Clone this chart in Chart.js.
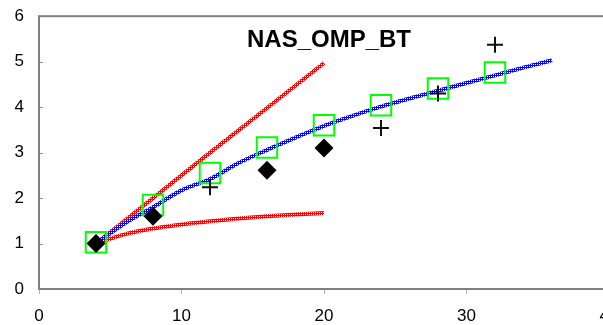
<!DOCTYPE html>
<html>
<head>
<meta charset="utf-8">
<script src="https://cdn.jsdelivr.net/npm/chart.js@4/dist/chart.umd.min.js"></script>
<style>
  html, body { margin: 0; padding: 0; background: #fff; overflow: hidden; }
  /* canvas is a bit larger than the window so the plot frame runs past the right edge */
  #speedup { display: block; margin-top: -9px; }
</style>
</head>
<body>
<canvas id="speedup" width="640" height="334"></canvas>
<script>
// Measured speedups (relative to 4 threads)
const squareX = [4, 8, 12, 16, 20, 24, 28, 32];
const squareY = [1.03, 1.85, 2.55, 3.11, 3.60, 4.04, 4.41, 4.76];

const diamondX = [4, 8, 16, 20];
const diamondY = [1.0, 1.6, 2.61, 3.1];

const plusX = [12, 24, 28, 32];
const plusY = [2.24, 3.54, 4.3, 5.37];

// Trend curve through the squares
const trendX = [4, 6, 8, 10, 12, 14, 16, 18, 20, 22, 24, 26, 28, 30, 32, 34, 36];
const trendY = [1.0, 1.44, 1.80, 2.17, 2.42, 2.77, 3.06, 3.33, 3.59, 3.81, 4.01, 4.19, 4.36, 4.53, 4.70, 4.87, 5.03];

// Linear and saturating reference curves
const idealX = [4, 8, 12, 16, 20];
const idealY = [1.0, 2.0, 3.0, 3.98, 4.97];

const boundX = [4, 6, 8, 10, 12, 14, 16, 18, 20];
const boundY = [1.0, 1.2, 1.33, 1.42, 1.49, 1.55, 1.6, 1.64, 1.67];

const xTicks = [0, 10, 20, 30, 40];
const yTicks = [0, 1, 2, 3, 4, 5, 6];

const chartTitle = 'NAS_OMP_BT';

function pts(xs, ys) {
  return xs.map((x, i) => ({x: x, y: ys[i]}));
}

const canvas = document.getElementById('speedup');
const ctx = canvas.getContext('2d');

// small dotted fill used for the thick curves
function dotted(fg, bg, holes) {
  const tile = document.createElement('canvas');
  tile.width = 2; tile.height = 2;
  const g = tile.getContext('2d');
  g.fillStyle = fg;
  g.fillRect(0, 0, 2, 2);
  g.fillStyle = bg;
  holes.forEach(p => g.fillRect(p[0], p[1], 1, 1));
  return ctx.createPattern(tile, 'repeat');
}
const bluePattern = dotted('#0000ff', '#ffffff', [[1, 1]]);
const redPattern = dotted('#ff0000', '#ffffff', [[1, 1]]);

// frame, inward y ticks and the title inside the plot
const framePlugin = {
  id: 'frame',
  beforeDatasetsDraw(chart) {
    const {ctx, chartArea: a, scales} = chart;
    ctx.save();
    ctx.strokeStyle = '#8c8c8c';
    ctx.lineWidth = 1;
    yTicks.forEach(v => {
      const y = Math.round(scales.y.getPixelForValue(v)) + 0.5;
      ctx.beginPath();
      ctx.moveTo(a.left, y);
      ctx.lineTo(a.left + 4, y);
      ctx.stroke();
    });
    ctx.restore();
  },
  afterDatasetsDraw(chart) {
    const {ctx, chartArea: a} = chart;
    ctx.save();
    ctx.strokeStyle = '#808080';
    ctx.lineWidth = 2;
    ctx.strokeRect(a.left, a.top, a.right - a.left, a.bottom - a.top);
    ctx.fillStyle = '#000';
    ctx.font = 'bold 24px "Liberation Sans", Arial, sans-serif';
    ctx.textAlign = 'center';
    ctx.textBaseline = 'alphabetic';
    ctx.fillText(chartTitle, a.left + 290, a.top + 31);
    ctx.restore();
  }
};

const tickFont = {family: '"Liberation Sans", Arial, sans-serif', size: 17};

new Chart(ctx, {
  type: 'scatter',
  data: {
    datasets: [
      {
        label: 'plus',
        data: pts(plusX, plusY),
        pointStyle: 'cross',
        pointRadius: 8,
        pointBorderWidth: 2,
        borderColor: '#111',
        backgroundColor: '#111'
      },
      {
        label: 'diamond',
        data: pts(diamondX, diamondY),
        pointStyle: 'rectRot',
        pointRadius: 9.5,
        pointBorderWidth: 0,
        backgroundColor: '#000',
        borderColor: '#000'
      },
      {
        label: 'square',
        data: pts(squareX, squareY),
        pointStyle: 'rect',
        pointRadius: 14.5,
        pointBorderWidth: 2,
        borderColor: '#00ff00',
        backgroundColor: 'rgba(0,0,0,0)'
      },
      {
        label: 'trend',
        data: pts(trendX, trendY),
        showLine: true,
        pointRadius: 0,
        borderWidth: 4,
        borderColor: bluePattern,
        cubicInterpolationMode: 'monotone'
      },
      {
        label: 'ideal',
        data: pts(idealX, idealY),
        showLine: true,
        pointRadius: 0,
        borderWidth: 4,
        borderColor: redPattern,
        cubicInterpolationMode: 'monotone'
      },
      {
        label: 'bound',
        data: pts(boundX, boundY),
        showLine: true,
        pointRadius: 0,
        borderWidth: 4,
        borderColor: redPattern,
        cubicInterpolationMode: 'monotone'
      }
    ]
  },
  options: {
    responsive: false,
    animation: false,
    events: [],
    layout: {padding: {top: 6, right: 31, left: 0, bottom: 0}},
    plugins: {
      legend: {display: false},
      tooltip: {enabled: false}
    },
    scales: {
      x: {
        type: 'linear',
        min: 0,
        max: 40,
        afterBuildTicks: s => { s.ticks = xTicks.map(v => ({value: v})); },
        afterFit: s => { s.height = 36; },
        border: {display: false},
        grid: {drawOnChartArea: false, drawTicks: true, tickLength: 5, color: '#b0b0b0'},
        ticks: {color: '#000', font: tickFont, padding: 12, maxRotation: 0}
      },
      y: {
        type: 'linear',
        min: 0,
        max: 6,
        afterBuildTicks: s => { s.ticks = yTicks.map(v => ({value: v})); },
        afterFit: s => { s.width = 39; },
        border: {display: false},
        grid: {display: false, drawTicks: false},
        ticks: {color: '#000', font: tickFont, padding: 15}
      }
    }
  },
  plugins: [framePlugin]
});
</script>
</body>
</html>
